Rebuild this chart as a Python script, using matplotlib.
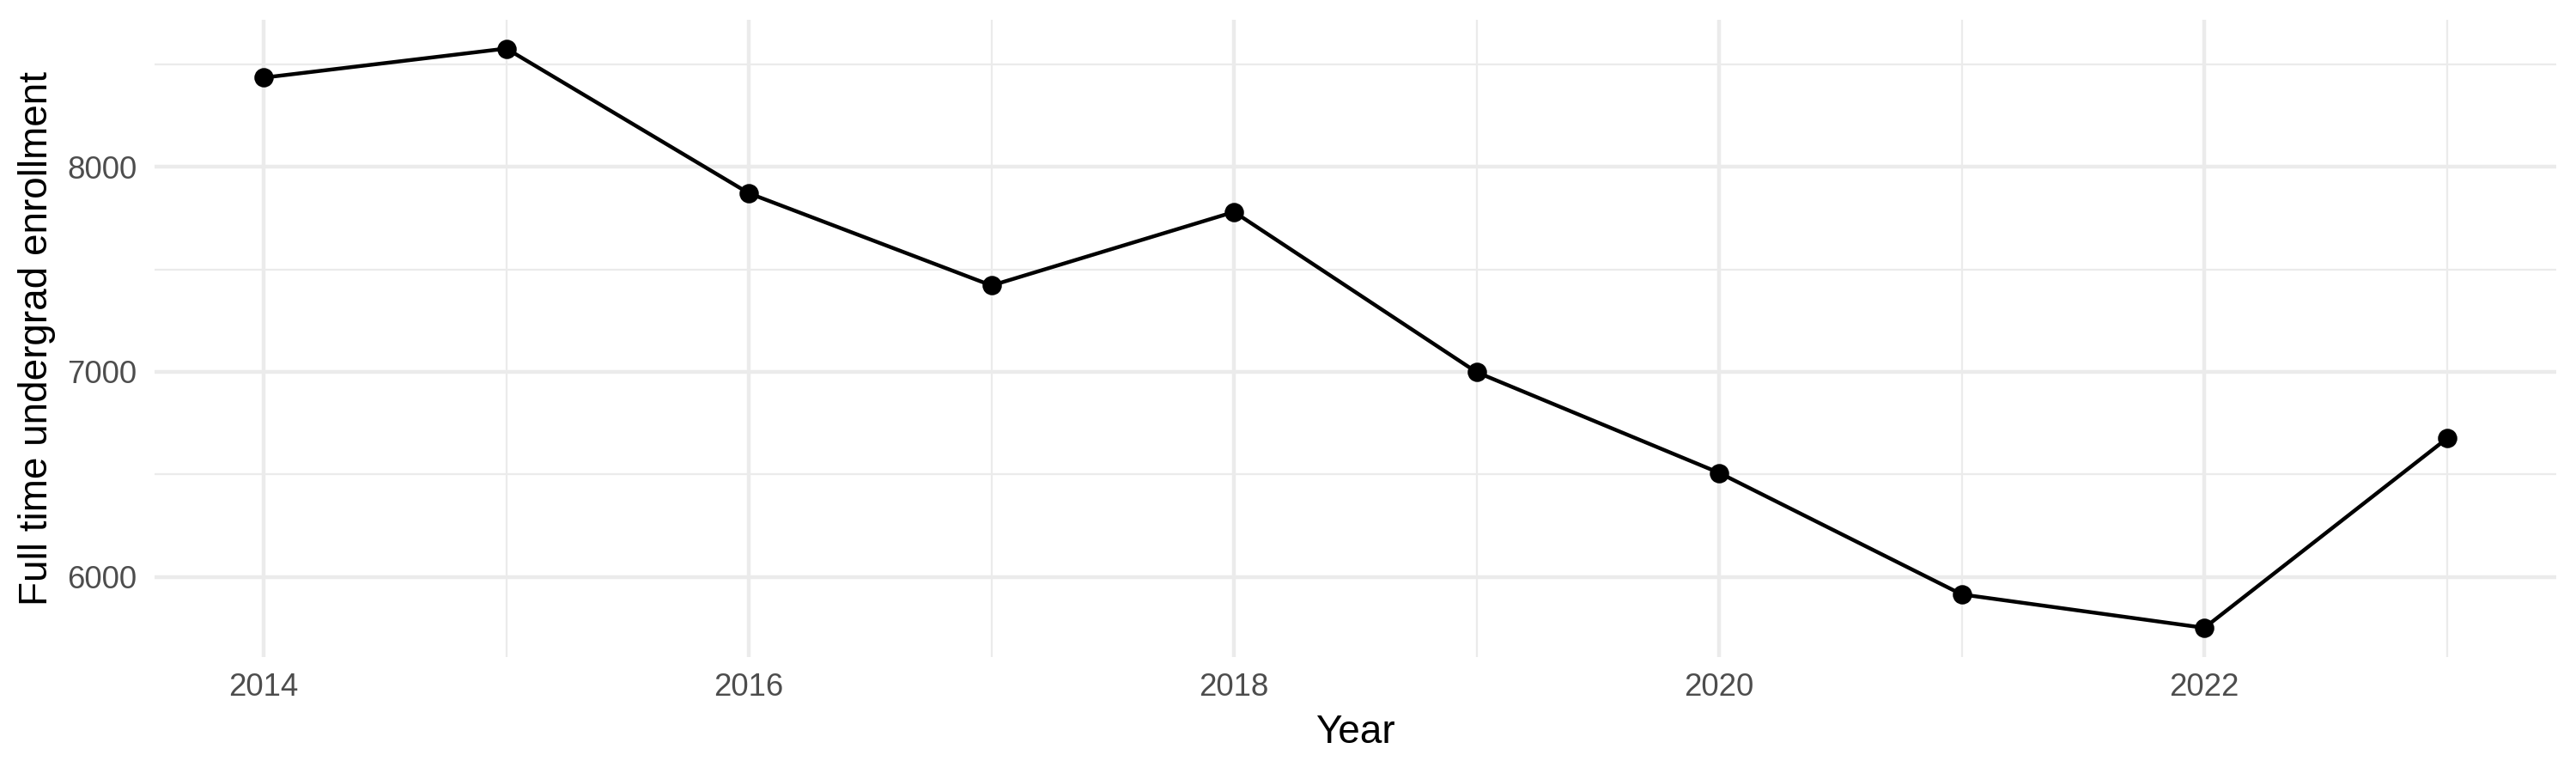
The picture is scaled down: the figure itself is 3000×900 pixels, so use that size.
import matplotlib.pyplot as plt
from matplotlib.ticker import MultipleLocator

plt.rcParams['font.family'] = ['Liberation Sans', 'DejaVu Sans']

# data
years = [2014, 2015, 2016, 2017, 2018, 2019, 2020, 2021, 2022, 2023]
enrollment = [8435, 8577, 7871, 7421, 7780, 6998, 6507, 5914, 5751, 6675]

fig = plt.figure(figsize=(10, 3), dpi=300)
ax = fig.add_axes([0.06, 0.1504, 0.9323, 0.8242])

ax.plot(years, enrollment, color='black', linewidth=1.07, zorder=3)
ax.plot(years, enrollment, 'o', color='black', markersize=4.4, zorder=4)

ax.set_xlim(2013.55, 2023.45)
ax.set_ylim(5610, 8718)
ax.set_xticks([2014, 2016, 2018, 2020, 2022])
ax.set_yticks([6000, 7000, 8000])
ax.xaxis.set_minor_locator(MultipleLocator(1))
ax.yaxis.set_minor_locator(MultipleLocator(500))

# theme_minimal look
for s in ax.spines.values():
    s.set_visible(False)
ax.grid(which='major', color='#EBEBEB', linewidth=1.07, zorder=0)
ax.grid(which='minor', color='#EBEBEB', linewidth=0.53, zorder=0)
ax.set_axisbelow(True)
ax.tick_params(which='both', length=0)
ax.tick_params(axis='x', pad=4.5, labelsize=8.8, labelcolor='#4D4D4D')
ax.tick_params(axis='y', pad=5, labelsize=8.8, labelcolor='#4D4D4D')

ax.set_xlabel('Year', fontsize=11, labelpad=3)
ax.set_ylabel('Full time undergrad enrollment', fontsize=11, labelpad=3)

fig.savefig('out.png', dpi=300, facecolor='white')
